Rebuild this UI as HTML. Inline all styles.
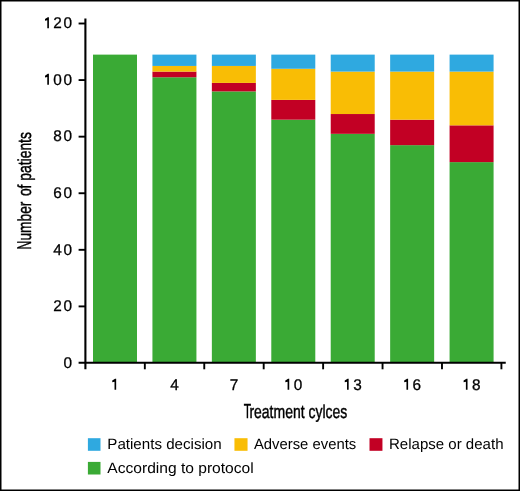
<!DOCTYPE html>
<html><head><meta charset="utf-8"><style>
html,body{margin:0;padding:0;background:#fff;}
svg{display:block;will-change:transform;}
text{font-family:"Liberation Sans",sans-serif;fill:#000;text-rendering:geometricPrecision;}
.tk{font-size:15.5px;stroke:#000;stroke-width:0.3px;}
.ti{font-size:18.8px;stroke:#000;stroke-width:0.45px;}
.cap{font-size:20.5px;}
.lg{font-size:15px;}
</style></head><body>
<svg width="520" height="491" viewBox="0 0 520 491">
<rect x="0" y="0" width="520" height="491" fill="#fff"/>
<rect x="93.00" y="54.62" width="44.0" height="308.36" fill="#3aaa35"/>
<rect x="152.43" y="77.25" width="44.0" height="285.73" fill="#3aaa35"/>
<rect x="152.43" y="71.59" width="44.0" height="5.66" fill="#c20024"/>
<rect x="152.43" y="65.94" width="44.0" height="5.66" fill="#f9bd05"/>
<rect x="152.43" y="54.62" width="44.0" height="11.32" fill="#2fa9e0"/>
<rect x="211.86" y="91.40" width="44.0" height="271.58" fill="#3aaa35"/>
<rect x="211.86" y="82.91" width="44.0" height="8.49" fill="#c20024"/>
<rect x="211.86" y="65.94" width="44.0" height="16.97" fill="#f9bd05"/>
<rect x="211.86" y="54.62" width="44.0" height="11.32" fill="#2fa9e0"/>
<rect x="271.29" y="119.69" width="44.0" height="243.29" fill="#3aaa35"/>
<rect x="271.29" y="99.88" width="44.0" height="19.80" fill="#c20024"/>
<rect x="271.29" y="68.76" width="44.0" height="31.12" fill="#f9bd05"/>
<rect x="271.29" y="54.62" width="44.0" height="14.15" fill="#2fa9e0"/>
<rect x="330.72" y="133.83" width="44.0" height="229.15" fill="#3aaa35"/>
<rect x="330.72" y="114.03" width="44.0" height="19.80" fill="#c20024"/>
<rect x="330.72" y="71.59" width="44.0" height="42.43" fill="#f9bd05"/>
<rect x="330.72" y="54.62" width="44.0" height="16.97" fill="#2fa9e0"/>
<rect x="390.15" y="145.15" width="44.0" height="217.83" fill="#3aaa35"/>
<rect x="390.15" y="119.69" width="44.0" height="25.46" fill="#c20024"/>
<rect x="390.15" y="71.59" width="44.0" height="48.09" fill="#f9bd05"/>
<rect x="390.15" y="54.62" width="44.0" height="16.97" fill="#2fa9e0"/>
<rect x="449.58" y="162.12" width="44.0" height="200.86" fill="#3aaa35"/>
<rect x="449.58" y="125.34" width="44.0" height="36.78" fill="#c20024"/>
<rect x="449.58" y="71.59" width="44.0" height="53.75" fill="#f9bd05"/>
<rect x="449.58" y="54.62" width="44.0" height="16.97" fill="#2fa9e0"/>
<line x1="85.4" y1="18.55" x2="85.4" y2="369.3" stroke="#000" stroke-width="2.1"/>
<line x1="78.6" y1="362.8" x2="505.75" y2="362.8" stroke="#000" stroke-width="2.1"/>
<line x1="144.83" y1="362.98" x2="144.83" y2="369.3" stroke="#000" stroke-width="1.9"/>
<line x1="204.26" y1="362.98" x2="204.26" y2="369.3" stroke="#000" stroke-width="1.9"/>
<line x1="263.69" y1="362.98" x2="263.69" y2="369.3" stroke="#000" stroke-width="1.9"/>
<line x1="323.12" y1="362.98" x2="323.12" y2="369.3" stroke="#000" stroke-width="1.9"/>
<line x1="382.55" y1="362.98" x2="382.55" y2="369.3" stroke="#000" stroke-width="1.9"/>
<line x1="441.98" y1="362.98" x2="441.98" y2="369.3" stroke="#000" stroke-width="1.9"/>
<line x1="501.41" y1="362.98" x2="501.41" y2="369.3" stroke="#000" stroke-width="1.9"/>
<line x1="78.6" y1="306.40" x2="85.4" y2="306.40" stroke="#000" stroke-width="1.9"/>
<line x1="78.6" y1="249.82" x2="85.4" y2="249.82" stroke="#000" stroke-width="1.9"/>
<line x1="78.6" y1="193.24" x2="85.4" y2="193.24" stroke="#000" stroke-width="1.9"/>
<line x1="78.6" y1="136.66" x2="85.4" y2="136.66" stroke="#000" stroke-width="1.9"/>
<line x1="78.6" y1="80.08" x2="85.4" y2="80.08" stroke="#000" stroke-width="1.9"/>
<line x1="78.6" y1="23.50" x2="85.4" y2="23.50" stroke="#000" stroke-width="1.9"/>
<text transform="translate(67.75,367.68) scale(0.99,1)" x="0" y="0" text-anchor="middle" class="tk">0</text>
<text transform="translate(57.60,311.10) scale(0.99,1)" x="0" y="0" text-anchor="middle" class="tk">2</text>
<text transform="translate(67.75,311.10) scale(0.99,1)" x="0" y="0" text-anchor="middle" class="tk">0</text>
<text transform="translate(57.60,254.52) scale(0.99,1)" x="0" y="0" text-anchor="middle" class="tk">4</text>
<text transform="translate(67.75,254.52) scale(0.99,1)" x="0" y="0" text-anchor="middle" class="tk">0</text>
<text transform="translate(57.60,197.94) scale(0.99,1)" x="0" y="0" text-anchor="middle" class="tk">6</text>
<text transform="translate(67.75,197.94) scale(0.99,1)" x="0" y="0" text-anchor="middle" class="tk">0</text>
<text transform="translate(57.60,141.36) scale(0.99,1)" x="0" y="0" text-anchor="middle" class="tk">8</text>
<text transform="translate(67.75,141.36) scale(0.99,1)" x="0" y="0" text-anchor="middle" class="tk">0</text>
<path d="M48.92,73.78 L47.80,73.78 L45.00,75.68 L45.00,77.38 L47.28,76.88 L47.28,84.78 L48.92,84.78Z"/>
<text transform="translate(57.60,84.78) scale(0.99,1)" x="0" y="0" text-anchor="middle" class="tk">0</text>
<text transform="translate(67.75,84.78) scale(0.99,1)" x="0" y="0" text-anchor="middle" class="tk">0</text>
<path d="M48.92,17.20 L47.80,17.20 L45.00,19.10 L45.00,20.80 L47.28,20.30 L47.28,28.20 L48.92,28.20Z"/>
<text transform="translate(57.60,28.20) scale(0.99,1)" x="0" y="0" text-anchor="middle" class="tk">2</text>
<text transform="translate(67.75,28.20) scale(0.99,1)" x="0" y="0" text-anchor="middle" class="tk">0</text>
<path d="M116.17,378.70 L115.05,378.70 L112.25,380.60 L112.25,382.30 L114.53,381.80 L114.53,389.70 L116.17,389.70Z"/>
<text transform="translate(174.48,389.70) scale(0.99,1)" x="0" y="0" text-anchor="middle" class="tk">4</text>
<text transform="translate(233.91,389.70) scale(0.99,1)" x="0" y="0" text-anchor="middle" class="tk">7</text>
<path d="M289.24,378.70 L288.12,378.70 L285.32,380.60 L285.32,382.30 L287.60,381.80 L287.60,389.70 L289.24,389.70Z"/>
<text transform="translate(298.00,389.70) scale(0.99,1)" x="0" y="0" text-anchor="middle" class="tk">0</text>
<path d="M348.67,378.70 L347.55,378.70 L344.75,380.60 L344.75,382.30 L347.03,381.80 L347.03,389.70 L348.67,389.70Z"/>
<text transform="translate(357.43,389.70) scale(0.99,1)" x="0" y="0" text-anchor="middle" class="tk">3</text>
<path d="M408.10,378.70 L406.98,378.70 L404.18,380.60 L404.18,382.30 L406.46,381.80 L406.46,389.70 L408.10,389.70Z"/>
<text transform="translate(416.86,389.70) scale(0.99,1)" x="0" y="0" text-anchor="middle" class="tk">6</text>
<path d="M467.53,378.70 L466.41,378.70 L463.61,380.60 L463.61,382.30 L465.89,381.80 L465.89,389.70 L467.53,389.70Z"/>
<text transform="translate(476.29,389.70) scale(0.99,1)" x="0" y="0" text-anchor="middle" class="tk">8</text>
<text x="243.75" y="417.6" class="ti" style="font-size:20.5px" textLength="7.4" lengthAdjust="spacingAndGlyphs">T</text>
<text x="249.4" y="417.6" class="ti" textLength="97.9" lengthAdjust="spacingAndGlyphs">reatment cylces</text>
<text transform="translate(31.4,249.4) rotate(-90)" x="0" y="0" class="ti" style="font-size:19.9px" textLength="8.6" lengthAdjust="spacingAndGlyphs">N</text>
<text transform="translate(31.4,240.6) rotate(-90)" x="0" y="0" class="ti" textLength="39.0" lengthAdjust="spacingAndGlyphs">umber</text>
<text transform="translate(31.4,196.1) rotate(-90)" x="0" y="0" class="ti" textLength="64.0" lengthAdjust="spacingAndGlyphs">of patients</text>
<rect x="87.9" y="438.2" width="12.6" height="12.6" fill="#2fa9e0"/>
<text x="107.3" y="449.3" class="lg" textLength="114.4" lengthAdjust="spacingAndGlyphs">Patients decision</text>
<rect x="234.45" y="438.2" width="13.1" height="12.6" fill="#f9bd05"/>
<text x="253.9" y="449.3" class="lg" textLength="102.3" lengthAdjust="spacingAndGlyphs">Adverse events</text>
<rect x="369.5" y="438.2" width="12.95" height="12.6" fill="#c20024"/>
<text x="389.0" y="449.3" class="lg" textLength="114.5" lengthAdjust="spacingAndGlyphs">Relapse or death</text>
<rect x="87.9" y="461.9" width="12.6" height="12.6" fill="#3aaa35"/>
<text x="107.3" y="473.2" class="lg" textLength="146.4" lengthAdjust="spacingAndGlyphs">According to protocol</text>
<rect x="0" y="0" width="520" height="491" fill="none" stroke="#000" stroke-width="3"/>
</svg>
</body></html>
